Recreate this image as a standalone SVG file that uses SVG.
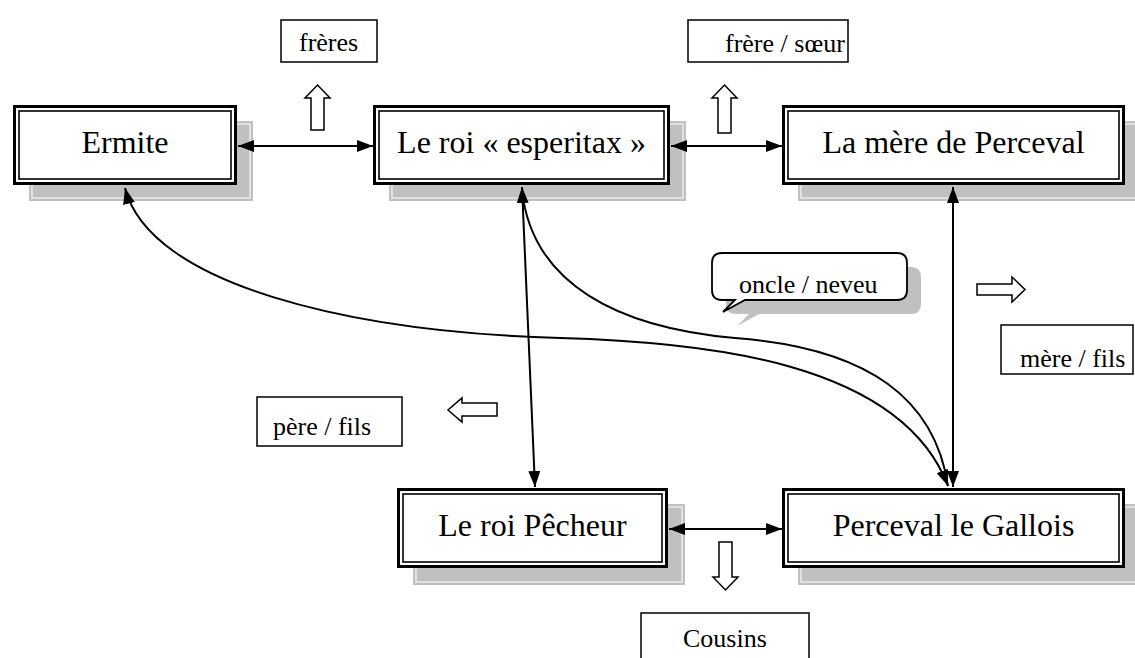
<svg xmlns="http://www.w3.org/2000/svg" width="1135" height="658" viewBox="0 0 1135 658">
<defs>
<style>
.sh{fill:#c0c0c0;stroke:none}
.shl{fill:none;stroke:#ffffff;stroke-width:1}
.bo{fill:#ffffff;stroke:#000;stroke-width:3}
.bi{fill:none;stroke:#000;stroke-width:1.6}
.nt{font-family:"Liberation Serif","Times New Roman",serif;font-size:32px;fill:#000;text-anchor:middle}
.lt{font-family:"Liberation Serif","Times New Roman",serif;font-size:26px;fill:#000}
.lb{fill:#fff;stroke:#000;stroke-width:1.5}
.ha{fill:#fff;stroke:#000;stroke-width:1.5;stroke-linejoin:miter}
.cn{fill:none;stroke:#000;stroke-width:2}
</style>
<marker id="ah" viewBox="0 0 16 12" refX="16" refY="6" markerWidth="16" markerHeight="12" markerUnits="userSpaceOnUse" orient="auto-start-reverse">
<path d="M0,0 L16,6 L0,12 z" fill="#000"/>
</marker>
</defs>
<rect width="1135" height="658" fill="#fff"/>

<g id="node-ermite">
<rect class="sh" x="29" y="121" width="224" height="80"/>
<rect class="shl" x="32" y="124" width="218" height="74"/>
<rect class="bo" x="14.5" y="106.5" width="221" height="77"/>
<rect class="bi" x="19" y="111" width="212" height="68"/>
<text class="nt" x="125" y="153">Ermite</text>
</g>

<g id="node-esperitax">
<rect class="sh" x="389" y="121" width="297" height="80"/>
<rect class="shl" x="392" y="124" width="291" height="74"/>
<rect class="bo" x="374.5" y="106.5" width="294" height="77"/>
<rect class="bi" x="379" y="111" width="285" height="68"/>
<text class="nt" x="521.5" y="153">Le roi « esperitax »</text>
</g>

<g id="node-mere">
<rect class="sh" x="798" y="121" width="343" height="80"/>
<rect class="shl" x="801" y="124" width="337" height="74"/>
<rect class="bo" x="783.5" y="106.5" width="340" height="77"/>
<rect class="bi" x="788" y="111" width="331" height="68"/>
<text class="nt" x="953.5" y="153">La mère de Perceval</text>
</g>

<g id="node-pecheur">
<rect class="sh" x="413" y="504" width="272" height="81"/>
<rect class="shl" x="416" y="507" width="266" height="75"/>
<rect class="bo" x="398.5" y="489.5" width="268" height="77"/>
<rect class="bi" x="403" y="494" width="259" height="68"/>
<text class="nt" x="532.5" y="536">Le roi Pêcheur</text>
</g>

<g id="node-perceval">
<rect class="sh" x="798" y="504" width="343" height="81"/>
<rect class="shl" x="801" y="507" width="337" height="75"/>
<rect class="bo" x="783.5" y="489.5" width="340" height="77"/>
<rect class="bi" x="788" y="494" width="331" height="68"/>
<text class="nt" x="953.5" y="536">Perceval le Gallois</text>
</g>

<g id="connectors">
<line class="cn" x1="238" y1="146" x2="373" y2="146" marker-start="url(#ah)" marker-end="url(#ah)"/>
<line class="cn" x1="671" y1="146" x2="782" y2="146" marker-start="url(#ah)" marker-end="url(#ah)"/>
<line class="cn" x1="669" y1="529" x2="782" y2="529" marker-start="url(#ah)" marker-end="url(#ah)"/>
<line class="cn" x1="522" y1="187" x2="535" y2="487" marker-start="url(#ah)" marker-end="url(#ah)"/>
<line class="cn" x1="953" y1="187" x2="953" y2="487" marker-start="url(#ah)" marker-end="url(#ah)"/>
<path class="cn" d="M125,188 C150,285 350,332 560,338 C700,342 900,360 948,486" marker-start="url(#ah)" marker-end="url(#ah)"/>
<path class="cn" d="M522,190 C532,285 620,328 735,338 C870,348 935,400 948,486"/>
</g>

<g id="label-freres">
<rect class="lb" x="281" y="20" width="96" height="42"/>
<text class="lt" x="299" y="51">frères</text>
<path class="ha" d="M311,130 V98 H305 L317.5,85 L330,98 H324 V130 Z"/>
</g>

<g id="label-frere-soeur">
<rect class="lb" x="688" y="20" width="160" height="42"/>
<text class="lt" x="725" y="52">frère / sœur</text>
<path class="ha" d="M718,133 V98 H712 L724.5,85 L737,98 H731 V133 Z"/>
</g>

<g id="label-oncle-neveu">
<path class="sh" transform="translate(14,14)" d="M722,253 H897 Q907,253 907,263 V290 Q907,300 897,300 H745 L723,312 L735,300 H722 Q712,300 712,290 V263 Q712,253 722,253 Z"/>
<path fill="#fff" stroke="#000" stroke-width="1.8" d="M722,253 H897 Q907,253 907,263 V290 Q907,300 897,300 H745 L723,312 L735,300 H722 Q712,300 712,290 V263 Q712,253 722,253 Z"/>
<text class="lt" x="739" y="293">oncle / neveu</text>
</g>

<g id="label-mere-fils">
<path class="ha" d="M977,284 H1012 V277 L1025,289.5 L1012,302 V295 H977 Z"/>
<rect class="lb" x="1001" y="325" width="132" height="49"/>
<text class="lt" x="1020" y="367">mère / fils</text>
</g>

<g id="label-pere-fils">
<path class="ha" d="M497,403 H462 V398 L448,410 L462,422 V416 H497 Z"/>
<rect class="lb" x="257" y="397" width="145" height="49"/>
<text class="lt" x="273" y="435">père / fils</text>
</g>

<g id="label-cousins">
<path class="ha" d="M719,542 V577 H713 L725.5,590 L738,577 H732 V542 Z"/>
<rect class="lb" x="641" y="613" width="168" height="60"/>
<text class="lt" x="683" y="647">Cousins</text>
</g>
</svg>
